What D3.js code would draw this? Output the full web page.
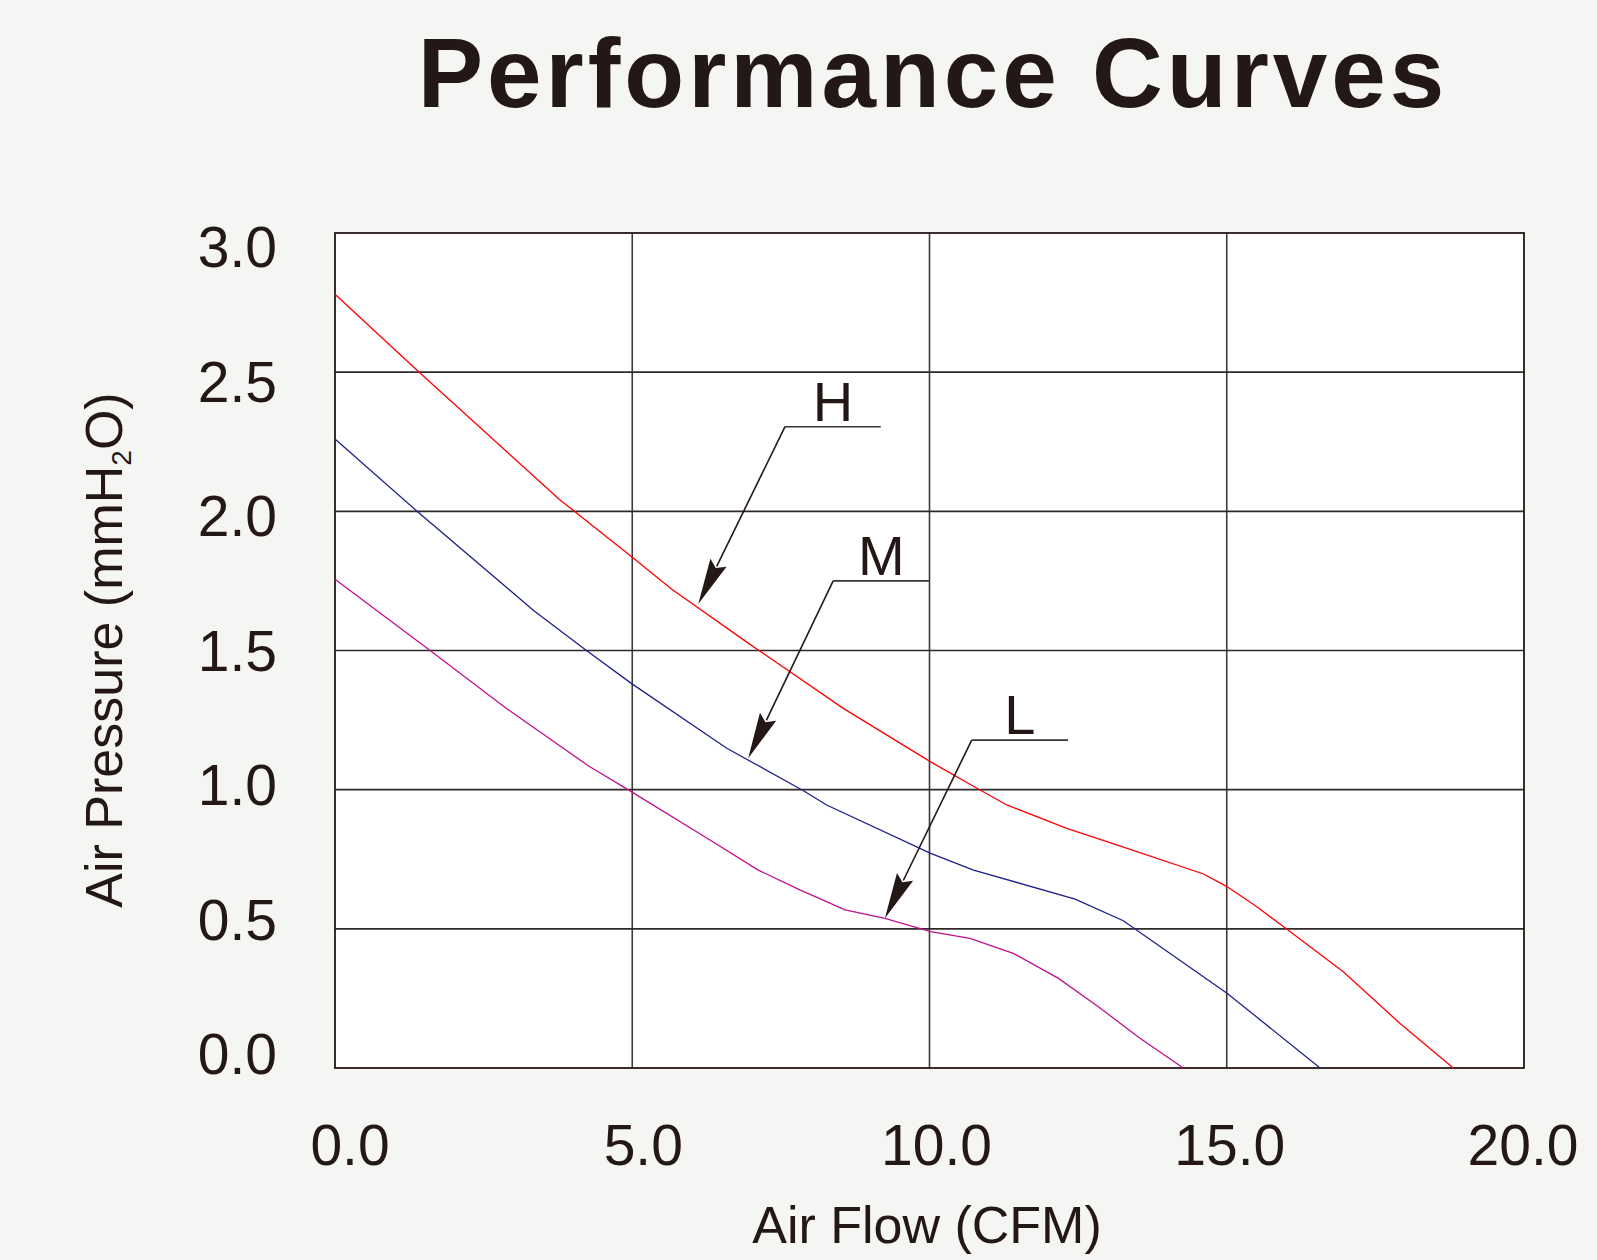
<!DOCTYPE html>
<html>
<head>
<meta charset="utf-8">
<script src="https://cdn.jsdelivr.net/npm/d3@7"></script>
<style>
  html, body { margin: 0; padding: 0; background: #f5f5f3; }
  svg { display: block; }
</style>
</head>
<body>
<svg id="chart" width="1597" height="1260"></svg>
<script>
// ---------- data ----------
const title = "Performance Curves";
const xTitle = "Air Flow (CFM)";
const xTicks = [0, 5, 10, 15, 20];
const yTicks = [0, 0.5, 1.0, 1.5, 2.0, 2.5, 3.0];
const xTickLabels = ["0.0", "5.0", "10.0", "15.0", "20.0"];
const yTickLabels = ["0.0", "0.5", "1.0", "1.5", "2.0", "2.5", "3.0"];

const seriesNames = ["H", "M", "L"];
const flowH = [0, 1.43, 3.78, 4.99, 5.66, 6.98, 7.12, 8.55, 10.02, 10.85, 11.30, 12.31, 13.20, 14.61, 15.01, 15.50, 15.98, 16.96, 17.91, 18.81];
const presH = [2.78, 2.497, 2.042, 1.837, 1.721, 1.522, 1.502, 1.292, 1.100, 0.999, 0.945, 0.861, 0.798, 0.697, 0.651, 0.580, 0.504, 0.346, 0.161, 0.0];
const flowM = [0, 1.35, 3.34, 4.23, 4.99, 6.59, 7.88, 8.27, 10.02, 10.74, 12.45, 13.26, 15.01, 16.57];
const presM = [2.26, 2.006, 1.644, 1.500, 1.381, 1.149, 0.996, 0.945, 0.771, 0.711, 0.607, 0.529, 0.268, 0.0];
const flowL = [0, 1.60, 2.89, 4.26, 4.99, 6.28, 7.12, 7.82, 8.58, 9.25, 10.02, 10.68, 11.41, 12.17, 12.84, 13.54, 14.27];
const presL = [1.756, 1.500, 1.291, 1.086, 0.992, 0.823, 0.711, 0.640, 0.568, 0.538, 0.490, 0.466, 0.412, 0.322, 0.220, 0.107, 0.0];

// annotation callouts (data coordinates): arrow tip on curve, elbow, end of underline
const annTipFlow   = [6.11, 6.95, 9.25];
const annTipPres   = [1.667, 1.113, 0.538];
const annElbowFlow = [7.57, 8.38, 10.71];
const annElbowPres = [2.304, 1.750, 1.178];
const annEndFlow   = [9.18, 10.0, 12.33];

// ---------- layout ----------
const svg = d3.select("#chart");
const L = 335, T = 233, R = 1524, B = 1068;
const ink = "#231815";
const colors = { H: "#ff0000", M: "#1d2088", L: "#c0108c" };

const x = d3.scaleLinear().domain([0, 20]).range([L, R]);
const y = d3.scaleLinear().domain([0, 3]).range([B, T]);
// tick labels are set on a slightly tighter spacing than the grid in the original
const xLab = d3.scaleLinear().domain([0, 20]).range([350, 1523]);
const yLab = d3.scaleLinear().domain([0, 3]).range([1053.5, 246.5]);

// plot background
svg.append("rect").attr("x", L).attr("y", T).attr("width", R - L).attr("height", B - T)
  .attr("fill", "#ffffff");

// grid
const grid = svg.append("g");
grid.selectAll("line.v").data(xTicks.slice(1, -1)).join("line")
  .attr("x1", d => x(d)).attr("x2", d => x(d)).attr("y1", T).attr("y2", B)
  .attr("stroke", "#3f3a39").attr("stroke-width", 1.6);
grid.selectAll("line.h").data(yTicks.slice(1, -1)).join("line")
  .attr("x1", L).attr("x2", R).attr("y1", d => y(d)).attr("y2", d => y(d))
  .attr("stroke", "#2f2a29").attr("stroke-width", 1.6);
svg.append("rect").attr("x", L).attr("y", T).attr("width", R - L).attr("height", B - T)
  .attr("fill", "none").attr("stroke", ink).attr("stroke-width", 1.8);

// curves
const series = [
  { name: "H", flow: flowH, pres: presH },
  { name: "M", flow: flowM, pres: presM },
  { name: "L", flow: flowL, pres: presL }
];
const line = d3.line().x(d => x(d[0])).y(d => y(d[1]));
series.forEach(s => {
  svg.append("path")
    .datum(s.flow.map((f, i) => [f, s.pres[i]]))
    .attr("d", line)
    .attr("fill", "none")
    .attr("stroke", colors[s.name])
    .attr("stroke-width", 1.3);
});

// annotations
const fam = "'Liberation Sans', Arial, Helvetica, sans-serif";
seriesNames.forEach((name, i) => {
  const tx = x(annTipFlow[i]), ty = y(annTipPres[i]);
  const ex = x(annElbowFlow[i]), ey = y(annElbowPres[i]);
  const endx = x(annEndFlow[i]);
  const dx = tx - ex, dy = ty - ey, len = Math.hypot(dx, dy);
  const ux = dx / len, uy = dy / len;
  const headLen = 46, headW = 9;
  const bx = tx - ux * headLen, by = ty - uy * headLen;
  const g = svg.append("g");
  g.append("line").attr("x1", ex).attr("y1", ey).attr("x2", endx).attr("y2", ey)
    .attr("stroke", "#3a3433").attr("stroke-width", 1.6);
  g.append("line").attr("x1", ex).attr("y1", ey).attr("x2", bx + ux * 4).attr("y2", by + uy * 4)
    .attr("stroke", ink).attr("stroke-width", 1.6);
  g.append("polygon")
    .attr("points", [[tx, ty], [bx - uy * headW, by + ux * headW], [bx + ux * 6, by + uy * 6], [bx + uy * headW, by - ux * headW]].map(p => p.join(",")).join(" "))
    .attr("fill", ink);
  g.append("text").attr("x", (ex + endx) / 2).attr("y", ey - 6)
    .attr("text-anchor", "middle").attr("font-family", fam).attr("font-size", 56)
    .attr("fill", ink).text(name);
});

// tick labels
svg.append("g").selectAll("text").data(yTicks).join("text")
  .attr("x", 277).attr("y", d => yLab(d)).attr("dy", 20.5)
  .attr("text-anchor", "end").attr("font-family", fam).attr("font-size", 57)
  .attr("fill", ink).text((d, i) => yTickLabels[i]);
svg.append("g").selectAll("text").data(xTicks).join("text")
  .attr("x", d => xLab(d)).attr("y", 1165)
  .attr("text-anchor", "middle").attr("font-family", fam).attr("font-size", 57)
  .attr("fill", ink).text((d, i) => xTickLabels[i]);

// axis titles
svg.append("text").attr("x", 927).attr("y", 1243).attr("text-anchor", "middle")
  .attr("font-family", fam).attr("font-size", 52).attr("fill", ink).text(xTitle);

const yt = svg.append("text").attr("transform", "translate(122,650) rotate(-90)")
  .attr("text-anchor", "middle").attr("font-family", fam).attr("font-size", 52).attr("fill", ink);
yt.append("tspan").text("Air Pressure (mmH");
yt.append("tspan").attr("font-size", 28).attr("dy", 9).text("2");
yt.append("tspan").attr("dy", -9).text("O)");

// title
svg.append("text").attr("x", 933).attr("y", 107).attr("text-anchor", "middle")
  .attr("font-family", fam).attr("font-weight", "bold").attr("font-size", 98)
  .attr("letter-spacing", 4).attr("fill", ink).text(title);
</script>
</body>
</html>
